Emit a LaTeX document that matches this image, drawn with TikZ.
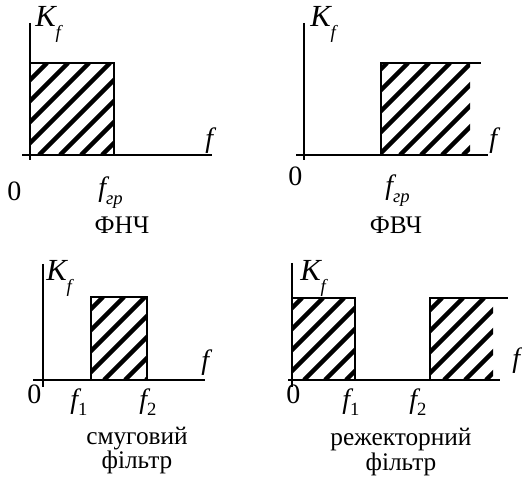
\documentclass[tikz,border=0pt]{standalone}
\usepackage{fontspec}
\setmainfont{Liberation Serif}
\newcommand\kfl{{\itshape K\raisebox{-9pt}{\fontsize{14}{14}\selectfont f}}}
\newcommand\fgr{{\itshape f\raisebox{-5.5pt}{\fontsize{14}{14}\selectfont гр}}}
\newcommand\fsub[1]{{\itshape f\raisebox{-5pt}{\upshape\fontsize{14}{14}\selectfont #1}}}
\newcommand\hatchbox[5]{%
  \begin{scope}
    \clip (#1,#2) rectangle (#3,#4);
    \foreach \k in {-2,...,16}
      \draw[hatchline] (#5+21*\k-#4,#4) -- (#5+21*\k-#2,#2);
  \end{scope}}
\begin{document}
\begin{tikzpicture}[x=0.75pt,y=-0.75pt,
  axis/.style={line width=1.5pt},
  boxline/.style={line width=1.2pt},
  hatchline/.style={line width=3.2pt},
  big/.style={font=\fontsize{21}{23}\selectfont, inner sep=0pt},
  kbig/.style={font=\fontsize{23}{25}\selectfont, inner sep=0pt},
  captext/.style={font=\fontsize{19}{17}\selectfont, inner sep=0pt, align=center}]
\useasboundingbox (0,0) rectangle (522,481);
% ---------- panel 1: ФНЧ
\hatchbox{30}{63}{114}{155}{110}
\draw[boxline] (30,63) -- (114,63) -- (114,155);
\draw[axis] (30,23) -- (30,160);
\draw[axis] (22,155.5) -- (212,155.5);
\node[kbig,anchor=base west] (k1) at (35,27) {\kfl};
\node[big,anchor=base west] (f1) at (205,148) {\itshape f};
\node[big,anchor=base west] (z1) at (7,201) {0};
\node[big,anchor=base west] (g1) at (98,197) {\fgr};
\node[captext,anchor=base] (c1) at (122,234) {ФНЧ};
% ---------- panel 2: ФВЧ
\hatchbox{381}{63}{470}{155}{450}
\draw[boxline] (381,155) -- (381,63) -- (481,63);
\draw[axis] (304,23) -- (304,160);
\draw[axis] (296,155.5) -- (488,155.5);
\node[kbig,anchor=base west] (k2) at (310,27) {\kfl};
\node[big,anchor=base west] (f2) at (489,148) {\itshape f};
\node[big,anchor=base west] (z2) at (288,186) {0};
\node[big,anchor=base west] (g2) at (385,195) {\fgr};
\node[captext,anchor=base] (c2) at (396,234) {ФВЧ};
% ---------- panel 3: смуговий фільтр
\hatchbox{91}{297}{147}{380}{400}
\draw[boxline] (91,380) -- (91,297) -- (147,297) -- (147,380);
\draw[axis] (43,264) -- (43,387);
\draw[axis] (33,380) -- (205,380);
\node[kbig,anchor=base west] (k3) at (46,281) {\kfl};
\node[big,anchor=base west] (f3) at (201,370) {\itshape f};
\node[big,anchor=base west] (z3) at (27,404) {0};
\node[big,anchor=base west] (a3) at (70,409) {\fsub{1}};
\node[big,anchor=base west] (b3) at (139,409) {\fsub{2}};
\node[captext,anchor=base] (c3) at (137,469) {смуговий\\фільтр};
% ---------- panel 4: режекторний фільтр
\hatchbox{292}{298}{355}{380}{600}
\hatchbox{430}{298}{493}{380}{740}
\draw[boxline] (292,298) -- (355,298) -- (355,380);
\draw[boxline] (430,380) -- (430,298) -- (508,298);
\draw[axis] (292,263) -- (292,387);
\draw[axis] (288,380) -- (500,380);
\node[kbig,anchor=base west] (k4) at (300,281) {\kfl};
\node[big,anchor=base west] (f4) at (512,368) {\itshape f};
\node[big,anchor=base west] (z4) at (286,404) {0};
\node[big,anchor=base west] (a4) at (342,409) {\fsub{1}};
\node[big,anchor=base west] (b4) at (409,409) {\fsub{2}};
\node[captext,anchor=base] (c4) at (401,470) {режекторний\\фільтр};
\end{tikzpicture}
\end{document}
